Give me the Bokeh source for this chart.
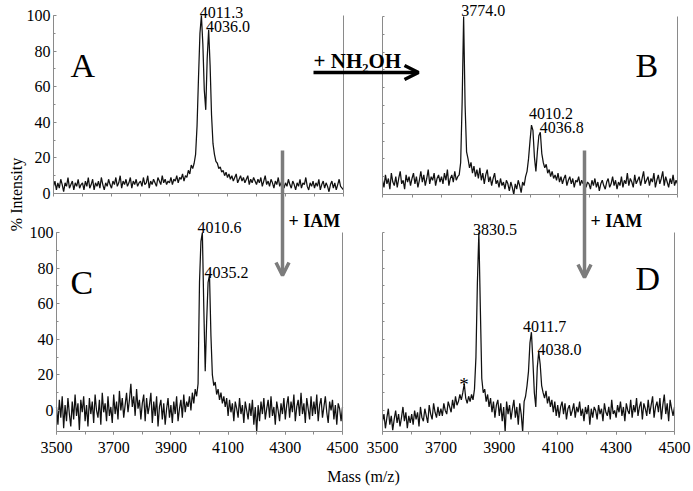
import math
from bokeh.plotting import figure
from bokeh.models import Range1d, LinearAxis, FixedTicker, Label, Arrow, OpenHead
from bokeh.core.properties import value
from bokeh.embed import file_html
from bokeh.resources import INLINE

# ---------------- data ----------------
MASS_START = 3500
MASS_STEP = 5

# Panel A: % intensity, one value every 5 m/z from 3500 to 4500
int_a = [
    4, 7, 2, 6, 3, 8, 5, 1, 6, 4, 9, 3, 5, 7, 2, 6, 4, 8, 3, 5,            # 3500
    6, 2, 7, 4, 9, 3, 5, 8, 2, 6, 4, 7, 3, 9, 5, 2, 6, 4, 8, 5,            # 3600
    3, 7, 5, 9, 4, 6, 10, 3, 7, 5, 8, 4, 6, 9, 3, 7, 5, 8, 4, 6,           # 3700
    7, 4, 9, 5, 6, 10, 3, 7, 5, 8, 6, 4, 9, 7, 5, 10, 6, 8, 5, 7,          # 3800
    6, 9, 5, 8, 7, 10, 6, 9, 8, 11, 7, 10, 9, 13, 11, 16, 14, 17, 22, 38,  # 3900
    65, 90, 100, 84, 58, 47, 76, 92, 72, 44, 28, 22, 18, 17, 14, 15, 12, 13, 10, 12,  # 4000
    9, 11, 8, 10, 7, 9, 11, 6, 8, 10, 7, 9, 6, 8, 10, 5, 8, 6, 9, 7,       # 4100
    5, 8, 6, 9, 4, 7, 10, 5, 7, 4, 8, 6, 3, 7, 5, 9, 4, 6, 8, 3,           # 4200
    6, 4, 8, 5, 3, 7, 5, 2, 6, 4, 8, 3, 6, 5, 9, 4, 2, 6, 4, 7,            # 4300
    3, 6, 4, 8, 2, 5, 7, 3, 6, 4, 1, 5, 7, 3, 6, 2, 5, 8, 4, 3,            # 4400
    2,
]
# Panel B
int_b = [
    8, 4, 11, 6, 9, 3, 12, 7, 5, 10, 4, 9, 13, 6, 8, 3, 11, 7, 10, 5,
    9, 12, 6, 10, 4, 8, 13, 7, 11, 5, 9, 14, 6, 10, 8, 12, 5, 9, 11, 7,
    10, 6, 12, 8, 14, 5, 9, 11, 7, 13, 8, 10, 11, 18, 52, 100, 50, 24, 20, 15,
    18, 12, 16, 10, 14, 9, 15, 8, 12, 6, 11, 14, 7, 10, 5, 9, 12, 6, 8, 4,
    9, 5, 7, 3, 8, 6, 2, 7, 4, 0, 6, 3, 8, 5, 1, 7, 5, 10, 13, 20,
    30, 39, 36, 21, 13, 24, 33, 35, 23, 18, 15, 17, 12, 14, 10, 13, 9, 11, 8, 12,
    7, 10, 6, 9, 11, 5, 8, 10, 6, 9, 4, 8, 7, 10, 5, 8, 6, 9, 4, 7,
    6, 3, 8, 5, 9, 4, 7, 2, 6, 8, 5, 3, 7, 9, 4, 6, 10, 5, 8, 3,
    7, 5, 10, 4, 8, 6, 12, 5, 9, 7, 4, 11, 6, 8, 10, 5, 9, 13, 6, 8,
    10, 5, 9, 7, 12, 4, 8, 11, 6, 9, 13, 5, 10, 7, 4, 9, 6, 11, 5, 8,
    6,
]
# Panel C
int_c = [
    2, -8, 6, -4, 8, -10, 3, -6, 7, -2, -9, 5, -5, 9, -3, 4, -11, 6, -1, 8,
    -6, 3, -9, 7, -2, 5, -7, 9, 0, -4, 6, -8, 10, -1, 4, -6, 8, -3, 2, -7,
    9, -2, 5, -5, 11, 0, 7, -4, 3, 10, -1, 6, 15, 2, 8, -3, 12, 1, 6, -5,
    4, 9, -6, 7, -2, 3, 10, -7, 5, -3, 8, -9, 2, 6, -5, 4, -8, 1, 7, -4,
    3, -7, 5, -2, 8, -6, 1, 6, -4, 9, -1, 5, 2, 8, 0, 10, 4, 12, 8, 15,
    72, 95, 100, 58, 22, 50, 72, 76, 42, 20, 14, 16, 9, 12, 6, 10, 4, 8, 2, 7,
    -3, 6, -1, 4, -6, 5, 1, -4, 7, -2, 3, -7, 5, 0, -5, 4, -3, 6, -8, 2,
    -12, 3, -6, 5, -2, 7, -5, 1, 6, -4, 8, -3, 2, -8, 5, 0, -6, 4, -2, 7,
    -5, 3, 8, -4, 5, -1, 9, -6, 2, 6, -3, 10, -2, 4, -7, 7, 1, -5, 8, -3,
    5, -2, 9, -6, 3, 7, -4, 2, 8, -1, -7, 5, 0, 6, -5, 3, -8, 4, 1, -6,
    2,
]
# Panel D
int_d = [
    -6, -2, -10, -4, 1, -8, -3, -11, -5, 0, -7, -2, -9, -4, 2, -6, -1, -10, -3, -7,
    -2, -8, 0, -5, -1, -9, 2, -4, -6, 1, -3, -7, 3, -2, -5, 4, -1, -4, 2, -3,
    1, -3, 4, 0, -2, 5, 2, -1, 6, 1, 8, 3, 5, 9, 6, 10, 15, 7, 4, 8,
    5, 9, 6, 12, 30, 72, 100, 58, 18, 10, 12, 5, 9, 2, 7, -1, 5, -4, 3, 6,
    -3, 4, -6, 2, -12, 5, -2, 3, -5, 1, 6, -4, 2, -8, 4, -2, -12, 5, 8, 14,
    22, 38, 44, 28, 10, 2, 24, 33, 26, 14, 10, 7, 11, 4, 8, 2, 6, -1, 5, -3,
    3, -4, 2, 5, -2, 4, -5, 1, 3, -3, 0, 4, -4, 2, -1, 5, -3, 1, -6, 2,
    -2, 3, -8, 1, -4, 2, 0, -5, 3, -2, 1, -6, 4, -1, -3, 2, -5, 6, -2, 0,
    -4, 3, -1, 5, -3, 2, -6, 4, 0, -2, 6, -4, 3, -1, 7, -3, 2, 5, -5, 4,
    1, -3, 6, -2, 3, 8, -4, 2, 5, -1, 7, -5, 3, 9, -2, 4, -6, 6, 1, -3,
    2,
]

# labelled peaks (m/z) and their heights (%)
peaks_a = [4011.3, 4036.0]
peak_int_a = [100, 92]
peaks_b = [3774.0, 4010.2, 4036.8]
peak_int_b = [100, 39, 35]
peaks_c = [4010.6, 4035.2]
peak_int_c = [100, 76]
peaks_d = [3830.5, 4011.7, 4038.0]
peak_int_d = [100, 44, 33]
star_d = [3779.0]
star_int_d = [15]

x_tick_labels = [3500, 3700, 3900, 4100, 4300, 4500]
y_tick_labels = [0, 20, 40, 60, 80, 100]
x_minor = [3500, 3600, 3700, 3800, 3900, 4000, 4100, 4200, 4300, 4400, 4500]
y_minor = [0, 10, 20, 30, 40, 50, 60, 70, 80, 90, 100]
MASS_MIN, MASS_MAX = 3500, 4500

# ---------------- layout / styling ----------------
FONT = "Liberation Serif"
W, H = 693, 491
OX, OY = 0, 0
AXIS_COLOR = "#8a8a8a"
LINE_COLOR = "#111111"
ARROW_GRAY = "#7c7c7c"

p = figure(width=W, height=H, output_backend="svg", toolbar_location=None,
           x_axis_type=None, y_axis_type=None,
           x_range=Range1d(OX, OX + W), y_range=Range1d(OY + H, OY),
           min_border=0, min_border_left=0, min_border_right=0,
           min_border_top=0, min_border_bottom=0,
           outline_line_color=None)
p.background_fill_color = "white"
p.border_fill_color = "white"

# panel placement in page pixels: x for 3500 / 4500, y for 0 % / 100 %
panels = [
    dict(name="a", x0=53, x1=343, y0=193, y100=15, ymin=0, xlab=False, ylab=True,
         data=int_a, peaks=peaks_a, pint=peak_int_a,
         offs=[(-2, 3), (-3, 3)]),
    dict(name="b", x0=382, x1=677, y0=194, y100=16, ymin=0, xlab=False, ylab=False,
         data=int_b, peaks=peaks_b, pint=peak_int_b,
         offs=[(-2, 6), (-4, 12), (-1, 5)]),
    dict(name="c", x0=56, x1=342, y0=410, y100=232, ymin=-12, xlab=True, ylab=True,
         data=int_c, peaks=peaks_c, pint=peak_int_c,
         offs=[(-5, 5), (-5, 3)]),
    dict(name="d", x0=382, x1=674, y0=410, y100=232, ymin=-12, xlab=True, ylab=False,
         data=int_d, peaks=peaks_d, pint=peak_int_d,
         offs=[(-6, 3), (-9, 6), (-2, 2)]),
]

for pn in panels:
    xn, yn = "x_" + pn["name"], "y_" + pn["name"]
    kx = (pn["x1"] - pn["x0"]) / (MASS_MAX - MASS_MIN)
    sx = MASS_MIN - (pn["x0"] - OX) / kx
    ky = (pn["y0"] - pn["y100"]) / 100.0
    sy = 0 - (OY + H - pn["y0"]) / ky
    p.extra_x_ranges[xn] = Range1d(sx, sx + W / kx)
    p.extra_y_ranges[yn] = Range1d(sy, sy + H / ky)

    masses = [MASS_START + MASS_STEP * i for i in range(len(pn["data"]))]
    p.line(masses, pn["data"], x_range_name=xn, y_range_name=yn,
           line_color=LINE_COLOR, line_width=1.25)

    # bottom axis
    xa = LinearAxis(x_range_name=xn, y_range_name=yn, fixed_location=pn["ymin"],
                    bounds=(MASS_MIN, MASS_MAX),
                    ticker=FixedTicker(ticks=x_tick_labels if pn["xlab"] else [],
                                       minor_ticks=x_minor),
                    axis_line_color=AXIS_COLOR, axis_line_width=1,
                    major_tick_line_color=AXIS_COLOR, minor_tick_line_color=AXIS_COLOR,
                    major_tick_in=0, major_tick_out=3, minor_tick_in=0, minor_tick_out=3,
                    major_label_standoff=7,
                    major_label_text_font=FONT, major_label_text_font_size="16px",
                    major_label_text_color="black")
    p.add_layout(xa, "below")

    # left axis
    ya = LinearAxis(x_range_name=xn, y_range_name=yn, fixed_location=MASS_MIN,
                    bounds=(pn["ymin"], 100),
                    ticker=FixedTicker(ticks=y_tick_labels if pn["ylab"] else [],
                                       minor_ticks=y_minor),
                    axis_line_color=AXIS_COLOR, axis_line_width=1,
                    major_tick_line_color=AXIS_COLOR, minor_tick_line_color=AXIS_COLOR,
                    major_tick_in=3, major_tick_out=0, minor_tick_in=2, minor_tick_out=0,
                    major_label_standoff=3,
                    major_label_text_font=FONT, major_label_text_font_size="16px",
                    major_label_text_color="black")
    p.add_layout(ya, "left")

    # right frame line
    ra = LinearAxis(x_range_name=xn, y_range_name=yn, fixed_location=MASS_MAX,
                    bounds=(pn["ymin"], 100), ticker=FixedTicker(ticks=[], minor_ticks=[]),
                    axis_line_color=AXIS_COLOR, axis_line_width=1)
    p.add_layout(ra, "right")

    # peak labels
    lx = [m + dx / kx for m, (dx, dy) in zip(pn["peaks"], pn["offs"])]
    ly = [h + dy / ky for h, (dx, dy) in zip(pn["pint"], pn["offs"])]
    p.text(lx, ly, text=["%.1f" % m for m in pn["peaks"]],
           x_range_name=xn, y_range_name=yn,
           text_font=value(FONT), text_font_size="16px", text_color="black",
           text_align="left", text_baseline="alphabetic")

    if pn["name"] == "d":
        p.text(star_d, [h - 1 / ky for h in star_int_d], text=["*"],
               x_range_name=xn, y_range_name=yn,
               text_font=value(FONT), text_font_size="19px", text_color="black",
               text_align="center", text_baseline="alphabetic")

# panel letters
for letter, lx_, ly_ in [("A", 70, 65), ("B", 635, 65), ("C", 70, 282), ("D", 635, 278)]:
    p.add_layout(Label(x=lx_, y=ly_, text=letter, text_font=FONT, text_font_size="34px",
                       text_color="black", text_align="left", text_baseline="alphabetic"))

# axis titles
p.add_layout(Label(x=16, y=194, text="% Intensity", angle=math.pi / 2, text_font=FONT,
                   text_font_size="16px", text_color="black", text_align="center",
                   text_baseline="alphabetic"))
p.add_layout(Label(x=363, y=476, text="Mass (m/z)", text_font=FONT,
                   text_font_size="16px", text_color="black", text_align="center",
                   text_baseline="alphabetic"))

# reaction arrows
p.add_layout(Label(x=313, y=60, text="+ NH\u2082OH", text_font=FONT, text_font_style="bold",
                   text_font_size="21px", text_color="black", text_align="left",
                   text_baseline="alphabetic"))
p.add_layout(Arrow(x_start=313, y_start=72, x_end=418, y_end=72, line_color="black",
                   line_width=3.5,
                   end=OpenHead(size=14, line_color="black", line_width=3.5)))
for ax_, tip in ((282, 275), (584, 277)):
    p.add_layout(Arrow(x_start=ax_, y_start=150, x_end=ax_, y_end=tip, line_color=ARROW_GRAY,
                       line_width=3.5,
                       end=OpenHead(size=13, line_color=ARROW_GRAY, line_width=3.5)))
for tx in (288, 590):
    p.add_layout(Label(x=tx, y=220, text="+ IAM", text_font=FONT, text_font_style="bold",
                       text_font_size="18px", text_color="black", text_align="left",
                       text_baseline="alphabetic"))

open("out.html", "w").write(file_html(p, INLINE))
